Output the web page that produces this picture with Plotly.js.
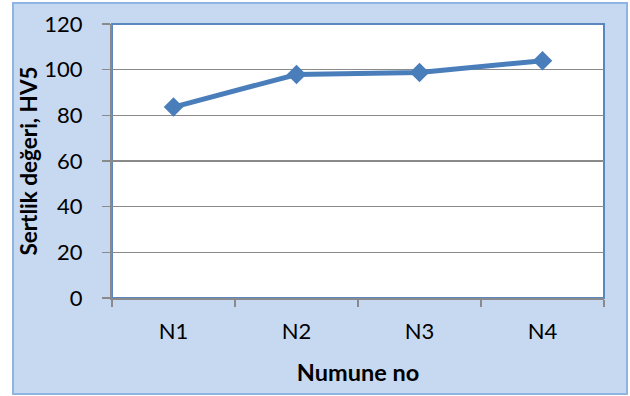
<!DOCTYPE html>
<html>
<head>
<meta charset="utf-8">
<script src="https://cdn.plot.ly/plotly-3.0.1.min.js"></script>
<style>
  html, body { margin: 0; padding: 0; background: #ffffff; }
  #chart { width: 630px; height: 396px; }
</style>
</head>
<body>
<div id="chart"></div>
<script>
// Sample numbers and measured Vickers hardness (HV5)
const samples = ["N1", "N2", "N3", "N4"];
const hardness = [83.6, 97.9, 98.8, 103.9];
const yTicks = [0, 20, 40, 60, 80, 100, 120];

const xTitle = "Numune no";
const yTitle = "Sertlik değeri, HV5";

const FONT = "Lato, 'Open Sans', sans-serif";
const BLUE = "#4a7ebb";
const GRID = "#8a8a8a";

const trace = {
  type: "scatter",
  mode: "lines+markers",
  x: samples,
  y: hardness,
  line: { color: BLUE, width: 5 },
  marker: { symbol: "diamond", size: 15, color: BLUE, line: { width: 0 } },
  hoverinfo: "x+y",
  showlegend: false
};

const layout = {
  width: 630,
  height: 396,
  margin: { l: 112, r: 26, t: 24, b: 98 },
  paper_bgcolor: "rgba(0,0,0,0)",
  plot_bgcolor: "rgba(0,0,0,0)",
  font: { family: FONT, size: 22, color: "#000000" },
  xaxis: {
    type: "category",
    range: [-0.5, samples.length - 0.5],
    tickson: "boundaries",
    ticks: "outside",
    ticklen: 7,
    tickwidth: 1.5,
    tickcolor: GRID,
    showline: true,
    linecolor: GRID,
    linewidth: 2,
    showgrid: false,
    zeroline: false,
    ticklabelstandoff: 13,
    tickfont: { family: FONT, size: 22 },
    title: { text: xTitle, font: { family: FONT, size: 23.5, weight: "bold" }, standoff: 21 }
  },
  yaxis: {
    range: [0, 120],
    tickvals: yTicks,
    ticktext: yTicks.map(String),
    ticks: "outside",
    ticklen: 8,
    tickwidth: 1.5,
    tickcolor: GRID,
    showline: true,
    linecolor: GRID,
    linewidth: 2,
    showgrid: true,
    gridcolor: GRID,
    gridwidth: 1.5,
    zeroline: false,
    ticklabelstandoff: 15,
    tickfont: { family: FONT, size: 22 },
    title: { text: yTitle, font: { family: FONT, size: 22.5, weight: "bold" }, standoff: 0 }
  },
  shapes: [
    // outer chart panel
    {
      type: "rect", layer: "below", xref: "paper", yref: "paper",
      x0: -0.2012, x1: 1.0467, y0: -0.3504, y1: 1.0766,
      fillcolor: "#c6d9f1", line: { color: "#8eb4e3", width: 2 }
    },
    // plot area
    {
      type: "rect", layer: "below", xref: "paper", yref: "paper",
      x0: 0, x1: 1, y0: 0, y1: 1,
      fillcolor: "#ffffff", line: { color: "#5b87c0", width: 2 }
    }
  ]
};

Plotly.newPlot("chart", [trace], layout, { staticPlot: true, displayModeBar: false });
</script>
</body>
</html>
